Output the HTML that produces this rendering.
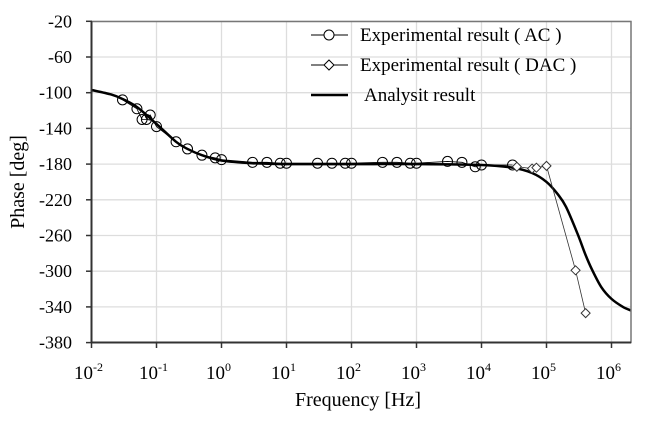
<!DOCTYPE html>
<html><head><meta charset="utf-8"><style>
body{margin:0;background:#fff}
svg text{font-family:"Liberation Serif",serif;fill:#000}
</style></head><body>
<svg id="chart" width="660" height="417" viewBox="0 0 660 417" xmlns="http://www.w3.org/2000/svg">
<g id="grid"></g>
<g id="series"></g>
<rect x="91.5" y="21.5" width="539.5" height="321" fill="none" stroke="#777" stroke-width="1.5"/>
<line x1="91.5" y1="342.5" x2="631" y2="342.5" stroke="#333" stroke-width="2"/>
<line x1="91.5" y1="21.5" x2="91.5" y2="342.5" stroke="#333" stroke-width="2"/>
<g id="ticks"></g>
<text x="358" y="406" font-size="20" text-anchor="middle">Frequency [Hz]</text>
<text transform="translate(24,182) rotate(-90)" font-size="20" text-anchor="middle">Phase [deg]</text>
<g>
<g>
<line x1="311" y1="35" x2="348" y2="35" stroke="#000" stroke-width="1"/>
<circle cx="329" cy="35" r="5" fill="#fff" stroke="#000"/>
<text x="360" y="41" font-size="19">Experimental result ( AC )</text></g>
<g>
<line x1="311" y1="65" x2="348" y2="65" stroke="#000" stroke-width="1"/>
<path d="M329 60 L334 65 L329 70 L324 65 Z" fill="#fff" stroke="#000"/>
<text x="360" y="71" font-size="19">Experimental result ( DAC )</text></g>
<g>
<line x1="311" y1="95" x2="348" y2="95" stroke="#000" stroke-width="2.5"/>
<text x="364" y="101" font-size="19">Analysit result</text></g>
</g>
</svg>
<script>
const xTickExp=[-2,-1,0,1,2,3,4,5,6];
const yTicks=[-20,-60,-100,-140,-180,-220,-260,-300,-340,-380];
const acFreq=[0.03,0.05,0.06,0.07,0.08,0.1,0.2,0.3,0.5,0.8,1,3,5,8,10,30,50,80,100,300,500,800,1000,3000,5000,8000,10000,30000];
const acPhase=[-108,-118,-130,-130,-125,-138,-155,-163,-170,-173,-175,-178,-178,-179,-179,-179,-179,-179,-179,-178,-178,-179,-179,-177,-178,-183,-181,-181];
const dacFreq=[35000,60000,70000,100000,280000,400000];
const dacPhase=[-183,-185,-184,-182,-299,-347];
const anFreq=[0.01,0.02,0.03,0.05,0.1,0.2,0.3,0.5,1,3,10,100,1000,10000,30000,60000,100000,150000,200000,300000,400000,500000,700000,1000000,1500000,2000000];
const anPhase=[-97,-102,-107,-116,-135,-155,-163,-170,-176,-179,-180,-180,-180,-181,-184,-190,-200,-214,-228,-258,-282,-298,-318,-331,-340,-344];
const NS='http://www.w3.org/2000/svg';
const X0=91.5,DEC=65,Y0=21.3,YS=35.7/40;
function xs(f){return X0+(Math.log10(f)+2)*DEC;}
function ys(v){return Y0+(-20-v)*YS;}
function mk(t,a,p){const e=document.createElementNS(NS,t);for(const k in a)e.setAttribute(k,a[k]);p.appendChild(e);return e;}
const grid=document.getElementById('grid'),ticks=document.getElementById('ticks'),ser=document.getElementById('series');
xTickExp.forEach(e=>{const x=xs(Math.pow(10,e));
 const g=mk('line',{x1:x,y1:21.5,x2:x,y2:342.5,stroke:'#ddd','stroke-width':1.3},grid);
 
 const t=mk('line',{x1:x,y1:342,x2:x,y2:348,stroke:'#333','stroke-width':1.5},ticks);
 
 const tx=mk('text',{x:x-3,y:379,'font-size':19,'text-anchor':'middle'},ticks);
 
 tx.textContent='10';const s=mk('tspan',{dy:-8,'font-size':12},tx);s.textContent=String(e);});
yTicks.forEach(v=>{const y=ys(v);
 const g=mk('line',{x1:91.5,y1:y,x2:631,y2:y,stroke:'#ddd','stroke-width':1.3},grid);
 
 const t=mk('line',{x1:86,y1:y,x2:92,y2:y,stroke:'#333','stroke-width':1.5},ticks);
 
 const tx=mk('text',{x:72,y:y+6,'font-size':18,'text-anchor':'end'},ticks);
 
 tx.textContent=String(v);});
// analytic curve (Catmull-Rom)
const P=anFreq.map((f,i)=>[xs(f),ys(anPhase[i])]);
let d='M'+P[0][0]+' '+P[0][1];
for(let i=0;i<P.length-1;i++){const p0=P[Math.max(0,i-1)],p1=P[i],p2=P[i+1],p3=P[Math.min(P.length-1,i+2)];
 d+=` C${p1[0]+(p2[0]-p0[0])/6} ${p1[1]+(p2[1]-p0[1])/6} ${p2[0]-(p3[0]-p1[0])/6} ${p2[1]-(p3[1]-p1[1])/6} ${p2[0]} ${p2[1]}`;}
const an=mk('path',{d:d,fill:'none',stroke:'#000','stroke-width':2.5},ser);

const acl=mk('polyline',{points:acFreq.map((f,i)=>xs(f)+','+ys(acPhase[i])).join(' '),fill:'none',stroke:'#000','stroke-width':0.8},ser);

acFreq.forEach((f,i)=>{const c=mk('circle',{cx:xs(f),cy:ys(acPhase[i]),r:5,fill:'none',stroke:'#000','stroke-width':1},ser);
 });
const dl=mk('polyline',{points:dacFreq.map((f,i)=>xs(f)+','+ys(dacPhase[i])).join(' '),fill:'none',stroke:'#333','stroke-width':0.8},ser);

dacFreq.forEach((f,i)=>{const x=xs(f),y=ys(dacPhase[i]);
 const p=mk('path',{d:`M${x} ${y-4.5} L${x+4.5} ${y} L${x} ${y+4.5} L${x-4.5} ${y} Z`,fill:'#fff',stroke:'#333','stroke-width':1},ser);
 });
</script>
</body></html>
